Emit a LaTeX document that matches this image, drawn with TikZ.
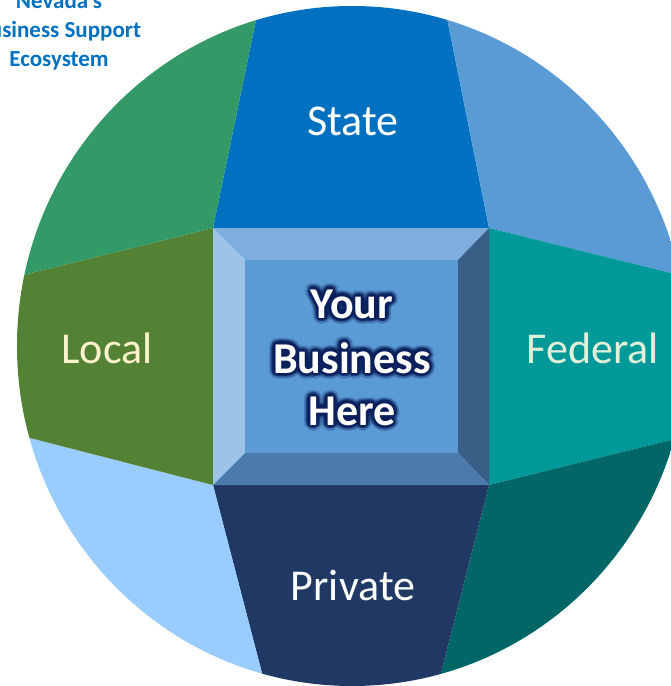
\documentclass[tikz,border=0pt]{standalone}
\usepackage{fontspec}
\setmainfont{Carlito}
\usetikzlibrary{calc}
\definecolor{cState}{HTML}{0070C0}
\definecolor{cTR}{HTML}{5B9BD5}
\definecolor{cFed}{HTML}{009999}
\definecolor{cBR}{HTML}{006666}
\definecolor{cPriv}{HTML}{203864}
\definecolor{cBL}{HTML}{99CCFF}
\definecolor{cLocal}{HTML}{548235}
\definecolor{cTL}{HTML}{339966}
\definecolor{bTop}{HTML}{7DAEDD}
\definecolor{bLeft}{HTML}{9DC3E6}
\definecolor{bRight}{HTML}{3A5F87}
\definecolor{bBot}{HTML}{4A7BAA}
\definecolor{bFace}{HTML}{5B9BD5}
\definecolor{glowc}{HTML}{0A1F5C}
\definecolor{cream}{HTML}{FFF2CC}
\definecolor{mint}{HTML}{E2F0D9}
\definecolor{titleblue}{HTML}{0070C0}
\tikzset{
  lbl/.style={font=\fontsize{44bp}{50bp}\selectfont, anchor=base, inner sep=0pt},
  ybtext/.style={font=\bfseries\fontsize{44bp}{53bp}\selectfont, anchor=base, inner sep=0pt},
  titletext/.style={font=\bfseries\fontsize{23bp}{29bp}\selectfont, anchor=base, inner sep=0pt, text=titleblue},
}
\newcommand{\glowline}[3]{%
  \foreach \ang [count=\k] in {0,22.5,...,337.5}{
    \node[ybtext, text=glowc, opacity=0.15] (#1a\k) at ($(#2)+(\ang:6)$) {#3};
  }
  \foreach \ang [count=\k] in {0,22.5,...,337.5}{
    \node[ybtext, text=glowc, opacity=0.35] (#1b\k) at ($(#2)+(\ang:3.8)$) {#3};
  }
  \foreach \ang [count=\k] in {0,45,...,315}{
    \node[ybtext, text=glowc, opacity=0.7] (#1c\k) at ($(#2)+(\ang:2)$) {#3};
  }
  \node[ybtext, text=white] (#1) at (#2) {#3};
}
\begin{document}
\begin{tikzpicture}[x=1bp,y=-1bp]
\useasboundingbox (0,0) rectangle (671,686);
\clip (0,0) rectangle (671,686);
% square corners
\coordinate (TL) at (213,228);
\coordinate (TR) at (489,228);
\coordinate (BR) at (489,485);
\coordinate (BL) at (213,485);
\coordinate (iTL) at (245,260);
\coordinate (iTR) at (458,260);
\coordinate (iBR) at (458,453);
\coordinate (iBL) at (245,453);
% far points of the dividing lines
\coordinate (TLup) at (301,-198);
\coordinate (TRup) at (405,-192);
\coordinate (TLleft) at (-167,322);
\coordinate (TRright) at (853,318);
\coordinate (BLleft) at (-153,391);
\coordinate (BRright) at (853,395);
\coordinate (BLdown) at (313,869);
\coordinate (BRdown) at (391,869);
\begin{scope}
  \clip (352,346) ellipse [x radius=335bp, y radius=340bp];
  \fill[cState] (TL) -- (TLup) -- (TRup) -- (TR) -- cycle;
  \fill[cTR] (TR) -- (TRup) -- (1000,-400) -- (TRright) -- cycle;
  \fill[cFed] (TR) -- (TRright) -- (BRright) -- (BR) -- cycle;
  \fill[cBR] (BR) -- (BRright) -- (1000,1000) -- (BRdown) -- cycle;
  \fill[cPriv] (BL) -- (BR) -- (BRdown) -- (BLdown) -- cycle;
  \fill[cBL] (BL) -- (BLdown) -- (-400,1000) -- (BLleft) -- cycle;
  \fill[cLocal] (TL) -- (BL) -- (BLleft) -- (TLleft) -- cycle;
  \fill[cTL] (TL) -- (TLleft) -- (-400,-400) -- (TLup) -- cycle;
\end{scope}
% bevelled centre square
\fill[bTop] (TL) -- (TR) -- (iTR) -- (iTL) -- cycle;
\fill[bLeft] (TL) -- (iTL) -- (iBL) -- (BL) -- cycle;
\fill[bRight] (TR) -- (BR) -- (iBR) -- (iTR) -- cycle;
\fill[bBot] (BL) -- (BR) -- (iBR) -- (iBL) -- cycle;
\fill[bFace] (iTL) rectangle (iBR);
% labels
\node[lbl, text=white] (state) at (353,136) {State};
\node[lbl, text=cream] (local) at (107,363) {Local};
\node[lbl, text=mint] (federal) at (593,363) {Federal};
\node[lbl, text=white] (private) at (353,600) {Private};
% centre text with glow
\coordinate (p1) at (352,318);
\coordinate (p2) at (352,373);
\coordinate (p3) at (352,425);
\glowline{your}{p1}{Your}
\glowline{business}{p2}{Business}
\glowline{here}{p3}{Here}
% title
\node[titletext] (t1) at (59,9) {Nevada’s};
\node[titletext] (t2) at (59,38) {Business Support};
\node[titletext] (t3) at (59,67) {Ecosystem};
\end{tikzpicture}
\end{document}
